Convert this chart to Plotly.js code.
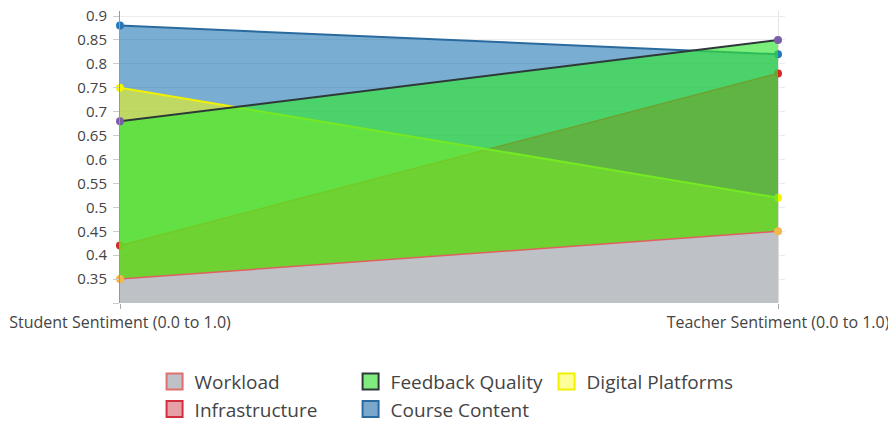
<!DOCTYPE html>
<html>
<head>
<meta charset="utf-8">
<script src="https://cdn.plot.ly/plotly-3.0.1.min.js"></script>
<style>
  html, body { margin: 0; padding: 0; background: #fff; }
  #chart { width: 888px; height: 423px; }
</style>
</head>
<body>
<div id="chart"></div>
<script>
// ---- Data ----
const categories = ['Student Sentiment (0.0 to 1.0)', 'Teacher Sentiment (0.0 to 1.0)'];
const seriesNames = ['Course Content', 'Infrastructure', 'Digital Platforms', 'Feedback Quality', 'Workload'];
const courseContent = [0.88, 0.82];
const infrastructure = [0.42, 0.78];
const digitalPlatforms = [0.75, 0.52];
const feedbackQuality = [0.68, 0.85];
const workload = [0.35, 0.45];
const yTickVals = [0.3, 0.35, 0.4, 0.45, 0.5, 0.55, 0.6, 0.65, 0.7, 0.75, 0.8, 0.85, 0.9];
const yTickText = ['', '0.35', '0.4', '0.45', '0.5', '0.55', '0.6', '0.65', '0.7', '0.75', '0.8', '0.85', '0.9'];
const legendOrder = ['Workload', 'Feedback Quality', 'Digital Platforms', 'Infrastructure', 'Course Content'];

// ---- Styles ----
const styles = {
  'Course Content':   { fill: 'rgba(31,119,180,0.6)',  line: '#2a6a9e', lw: 2,   marker: '#2878b8', legFill: '#7aa8cc', legLine: '#2a6a9e' },
  'Infrastructure':   { fill: 'rgba(214,39,40,0.65)',  line: '#d62728', lw: 1.5, marker: '#d62728', legFill: '#e8a0a8', legLine: '#d0303c' },
  'Digital Platforms':{ fill: 'rgba(255,255,0,0.52)',  line: '#f2f200', lw: 2,   marker: '#f5f500', legFill: '#ffff9a', legLine: '#f0f000' },
  'Feedback Quality': { fill: 'rgba(52,229,52,0.66)',  line: '#2e3838', lw: 2,   marker: '#7b5ea8', legFill: '#80ec80', legLine: '#2e3838' },
  'Workload':         { fill: 'rgb(190,194,198)',      line: '#e06060', lw: 1.5, marker: '#f2b84b', legFill: '#bec2c6', legLine: '#e07070' }
};
const values = {
  'Course Content': courseContent,
  'Infrastructure': infrastructure,
  'Digital Platforms': digitalPlatforms,
  'Feedback Quality': feedbackQuality,
  'Workload': workload
};

const traces = seriesNames.map(name => ({
  type: 'scatter',
  mode: 'lines+markers',
  name: name,
  legendgroup: name,
  showlegend: false,
  x: categories,
  y: values[name],
  fill: 'tozeroy',
  fillcolor: styles[name].fill,
  line: { color: styles[name].line, width: styles[name].lw },
  marker: { color: styles[name].marker, size: 8 },
  cliponaxis: false,
  hoverinfo: 'x+y+name'
}));

// legend entries (square swatches)
legendOrder.forEach(name => {
  traces.push({
    type: 'scatter',
    mode: 'markers',
    name: name,
    legendgroup: name,
    showlegend: true,
    x: [null],
    y: [null],
    marker: { symbol: 'square', size: 16, color: styles[name].legFill, line: { color: styles[name].legLine, width: 2 } },
    hoverinfo: 'skip'
  });
});

const layout = {
  width: 888,
  height: 423,
  margin: { l: 120, r: 103, t: 11, b: 120, autoexpand: false },
  paper_bgcolor: '#ffffff',
  plot_bgcolor: '#ffffff',
  font: { family: '"Open Sans", sans-serif', color: '#444' },
  showlegend: true,
  legend: {
    orientation: 'h',
    x: 0.052,
    xanchor: 'left',
    y: -0.204,
    yanchor: 'top',
    font: { size: 19, color: '#444' },
    traceorder: 'normal',
    entrywidth: 151,
    entrywidthmode: 'pixels',
    bgcolor: 'rgba(0,0,0,0)'
  },
  xaxis: {
    type: 'category',
    range: [0, 1.0106],
    showgrid: true,
    gridcolor: '#e4e4e4',
    showline: false,
    zeroline: false,
    ticks: 'outside',
    ticklen: 5,
    tickcolor: '#aaa',
    tickfont: { size: 16, color: '#444' }
  },
  yaxis: {
    range: [0.3, 0.9105],
    tickvals: yTickVals,
    ticktext: yTickText,
    showgrid: true,
    gridcolor: '#ececec',
    showline: true,
    linecolor: '#999',
    linewidth: 1,
    zeroline: false,
    ticks: 'outside',
    ticklen: 6,
    tickcolor: '#ccc',
    ticklabelstandoff: 3,
    tickfont: { size: 15, color: '#444' }
  }
};

Plotly.newPlot('chart', traces, layout, { displayModeBar: false });
</script>
</body>
</html>
